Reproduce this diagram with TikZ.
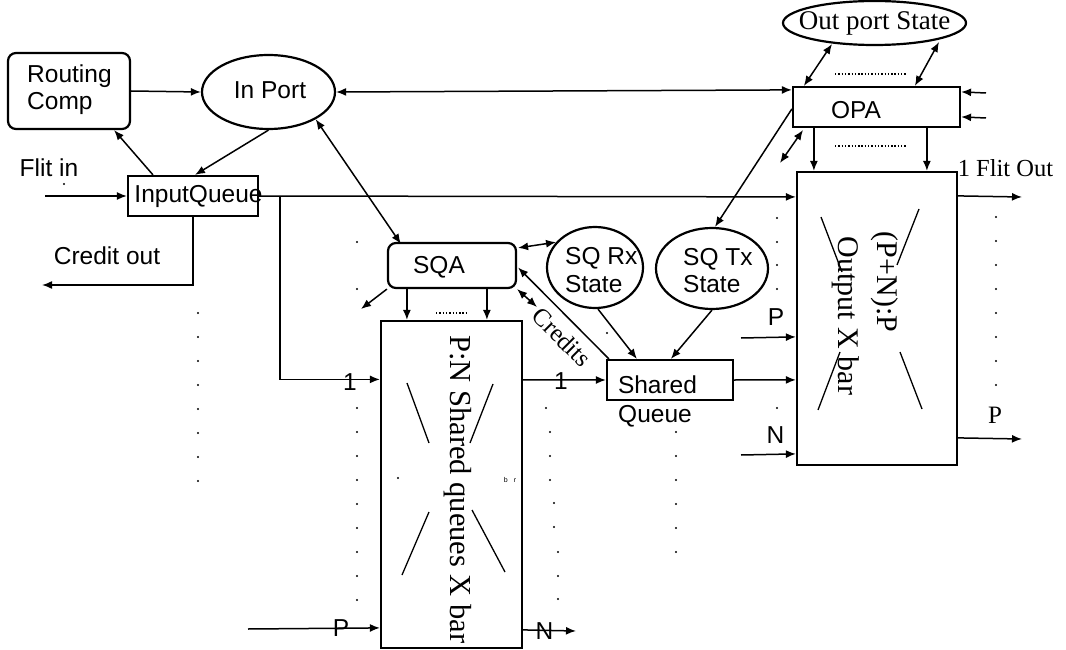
\documentclass[tikz,border=0pt]{standalone}
\usepackage{fontspec}
\setmainfont{Liberation Serif}
\newfontfamily\sansf{Liberation Sans}
\usetikzlibrary{arrows.meta,calc,shapes.geometric}
\begin{document}
\begin{tikzpicture}[x=1pt,y=-1pt,
  box/.style={draw, rectangle, line width=2.2pt, inner sep=0pt},
  rbox/.style={box, rounded corners=8pt},
  ell/.style={draw, ellipse, line width=2.2pt, inner sep=0pt},
  ar/.style={line width=1.5pt, -{Latex[length=10pt,width=8pt]}},
  dar/.style={line width=1.5pt, {Latex[length=10pt,width=8pt]}-{Latex[length=10pt,width=8pt]}},
  xl/.style={line width=1.3pt},
  dl/.style={line width=1.4pt, dash pattern=on 1.4pt off 1.9pt},
  sf/.style={font=\sansf\fontsize{24.5}{28}\selectfont, inner sep=0pt},
  rmf/.style={font=\fontsize{#1}{#1}\selectfont, inner sep=0pt}
]
\useasboundingbox (0,0) rectangle (1066,650);
\fill[white] (0,0) rectangle (1066,650);

% ---------- shapes ----------
\node[rbox, minimum width=122pt, minimum height=76pt] (rc) at (69,91) {};
\node[ell, minimum width=133pt, minimum height=74pt] (inport) at (268.5,92) {};
\node[box, minimum width=130pt, minimum height=40pt] (iq) at (193,196) {};
\node[rbox, minimum width=128pt, minimum height=45pt] (sqa) at (452,265.5) {};
\node[ell, minimum width=96pt, minimum height=81pt] (sqrx) at (595,267.5) {};
\node[ell, minimum width=112pt, minimum height=81pt] (sqtx) at (712,268.5) {};
\node[box, minimum width=126pt, minimum height=40pt] (sq) at (670,380) {};
\node[box, minimum width=167pt, minimum height=40pt] (opa) at (876.5,107) {};
\node[ell, minimum width=183pt, minimum height=44pt] (ops) at (874.5,23) {};
\node[box, minimum width=160pt, minimum height=293pt] (ox) at (877,318.5) {};
\node[box, minimum width=141pt, minimum height=327pt] (sx) at (451.5,484.5) {};

% ---------- texts ----------
\node[sf, anchor=base west] (t-rout) at (27,83) {Routing};
\node[sf, anchor=base west] (t-comp) at (27,110) {Comp};
\node[sf, anchor=base] (t-inport) at (270,99) {In Port};
\node[sf, anchor=base] (t-flit) at (49,177) {Flit in};
\node[sf, anchor=base] (t-cred) at (107,264) {Credit out};
\node[sf, anchor=base] (t-iq) at (198.5,203) {InputQueue};
\node[sf, anchor=base] (t-sqa) at (439,273) {SQA};
\node[sf, anchor=base west] (t-rx1) at (565,264) {SQ Rx};
\node[sf, anchor=base west] (t-rx2) at (565,292) {State};
\node[sf, anchor=base west] (t-tx1) at (683,265) {SQ Tx};
\node[sf, anchor=base west] (t-tx2) at (683,292) {State};
\node[sf, anchor=base] (t-sh) at (657.5,393) {Shared};
\node[sf, anchor=base] (t-qu) at (655,422) {Queue};
\node[sf, anchor=base] (t-opa) at (856,119) {OPA};
\node[rmf=27, anchor=base] (t-ops) at (874.5,30) {Out port State};
\node[rmf=24.5, anchor=base] (t-fout) at (1005.5,177) {1 Flit Out};
\node[rmf=25, anchor=base] (t-pr) at (995,423) {P};
\node[sf, anchor=base] (t-p1) at (776,325) {P};
\node[sf, anchor=base] (t-n1) at (775.5,443) {N};
\node[sf, anchor=base] (t-one1) at (350,390) {1};
\node[sf, anchor=base] (t-one2) at (561,389) {1};
\node[sf, anchor=base] (t-p2) at (341,636) {P};
\node[sf, anchor=base] (t-n2) at (544.5,639) {N};
\node[rmf=30, rotate=-90] (t-ox1) at (885,282) {(P+N):P};
\node[rmf=30, rotate=-90] (t-ox2) at (846,316) {Output X bar};
\node[rmf=30.5, rotate=-90, anchor=west] (t-sx) at (458,335) {P:N Shared queues X bar};
\node[rmf=25, rotate=-45] (t-credits) at (562,337) {Credits};
\node[font=\sansf\fontsize{7}{8}\selectfont, inner sep=0pt] (t-br) at (510,480) {b\hspace{6pt}r};

% ---------- free ends ----------
\coordinate (fin) at (45,196);
\coordinate (cout) at (42,285);
\coordinate (pin) at (248,629);
\coordinate (nout) at (576,631);
\coordinate (pox) at (741,338);
\coordinate (nox) at (741,455);
\coordinate (o1) at (1022,197);
\coordinate (o2) at (1022,439);
\coordinate (r1) at (986,93);
\coordinate (r2) at (986,118);
\coordinate (sqa1) at (361,309);
\coordinate (sqa2) at (537,307);
\coordinate (d1a) at (803,130);
\coordinate (d1b) at (780,163);

% ---------- connectors ----------
\draw[ar] (rc.east) -- (inport.west);
\draw[ar] ($(iq.north)+(-40,0)$) -- ($(rc.south east)+(-17,0)$);
\draw[ar] (inport.south) -- ($(iq.north)+(2,0)$);
\draw[ar] (fin) -- (iq.west);
\draw[ar] (iq.south) |- (cout);
\draw[ar] (iq.east) -- ($(ox.north west)+(0,26)$);
\draw[ar] ($(iq.east)+(21,0.5)$) |- ($(sx.north west)+(0,59.5)$);
\draw[ar] (pin) -- ($(sx.north west)+(0,308)$);
\draw[ar] ($(sx.north east)+(0,310)$) -- (nout);
\draw[ar] ($(sx.north east)+(0,60)$) -- (sq.west);
\draw[ar] (sq.east) -- ($(ox.north west)+(0,209)$);
\draw[ar] (pox) -- ($(ox.north west)+(0,166)$);
\draw[ar] (nox) -- ($(ox.north west)+(0,283)$);
\draw[ar] ($(ox.north east)+(0,25)$) -- (o1);
\draw[ar] ($(ox.north east)+(0,267)$) -- (o2);
\draw[ar] ($(opa.south west)+(22,0)$) -- ($(ox.north west)+(18,0)$);
\draw[ar] ($(opa.south west)+(135,0)$) -- ($(ox.north west)+(131,0)$);
\draw[ar] (r1) -- ($(opa.north east)+(0,6)$);
\draw[ar] (r2) -- ($(opa.north east)+(0,31)$);
\draw[dar] ($(opa.north west)+(12,0)$) -- ($(ops.center)+(-42.5,21)$);
\draw[dar] ($(opa.north west)+(123,0)$) -- ($(ops.center)+(64.5,19)$);
\draw[dar] (inport.east) -- ($(opa.north west)+(0,4)$);
\draw[ar] ($(opa.north west)+(0,23)$) -- ($(sqtx.north)+(3,0)$);
\draw[dar] (d1a) -- (d1b);
\draw[dar] (inport.-30) -- ($(sqa.north west)+(14,2)$);
\draw[dar] ($(sqa.north east)+(1,6)$) -- (sqrx.147);
\draw[ar] (sqa.south west) -- (sqa1);
\draw[dar] (sqa.south east) -- (sqa2);
\draw[ar] ($(sq.north west)+(3,0)$) -- ($(sqa.east)+(1,2)$);
\draw[ar] ($(sqa.south west)+(20,0)$) -- ($(sx.north west)+(27,0)$);
\draw[ar] ($(sqa.south west)+(100,0)$) -- ($(sx.north west)+(107,0)$);
\draw[ar] ($(sqrx.south)+(3,0)$) -- ($(sq.north west)+(31,0)$);
\draw[ar] (sqtx.south) -- ($(sq.north west)+(65,0)$);

% ---------- dotted ellipses ----------
\draw[dl] (835,74) -- (907,74);
\draw[dl] (835,146) -- (907,146);
\draw[dl] (436,313) -- (468,313);

% ---------- crossbar X marks ----------
\draw[xl] (821,217) -- (842,272);
\draw[xl] (919,209) -- (897,265);
\draw[xl] (840,352) -- (818,410);
\draw[xl] (900,352) -- (922,409);
\draw[xl] (407,383) -- (429,443);
\draw[xl] (493,384) -- (470,443);
\draw[xl] (429,512) -- (402,575);
\draw[xl] (472,510) -- (505,572);

% ---------- dot columns ----------
\foreach \y in {313,337,361,385,409,433,457,481} \fill (198,\y) circle (1.2pt);
\foreach \y in {242,289,408,432,456,480,504,528,552,576,600} \fill (357,\y) circle (1.2pt);
\foreach \x/\y in {546/408,550/432,550/456,550/480,554/503,554/527,558/552,558/576,558/599} \fill (\x,\y) circle (1.2pt);
\foreach \y in {432,456,480,504,528,552} \fill (676,\y) circle (1.2pt);
\foreach \y in {218,242,265,289,408} \fill (777,\y) circle (1.2pt);
\foreach \y in {217,241,265,289,313,337,361,385} \fill (996,\y) circle (1.2pt);
\fill (398,478) circle (1.2pt);
\fill (607,333) circle (1.2pt);
\fill (64,184) circle (1.2pt);
\end{tikzpicture}
\end{document}
